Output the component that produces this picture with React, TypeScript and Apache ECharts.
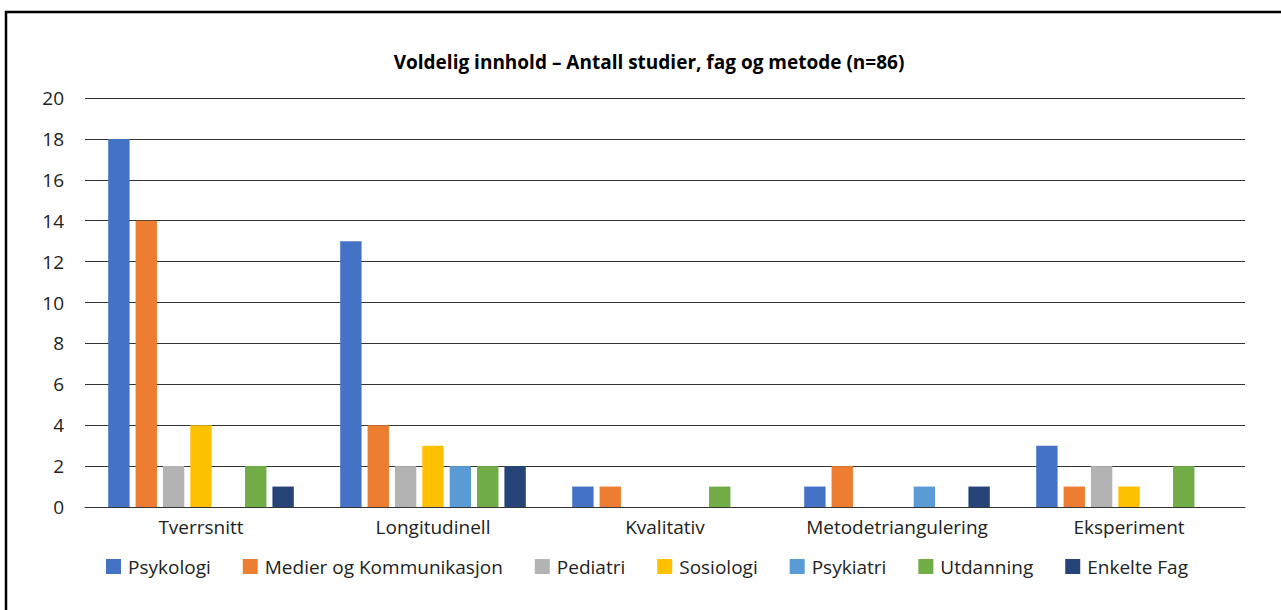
import React, { useEffect, useRef } from "react";
import * as echarts from "echarts";

const categories = ["Tverrsnitt", "Longitudinell", "Kvalitativ", "Metodetriangulering", "Eksperiment"];
const seriesNames = ["Psykologi", "Medier og Kommunikasjon", "Pediatri", "Sosiologi", "Psykiatri", "Utdanning", "Enkelte Fag"];
const psykologi = [18, 13, 1, 1, 3];
const medier = [14, 4, 1, 2, 1];
const pediatri = [2, 2, 0, 0, 2];
const sosiologi = [4, 3, 0, 0, 1];
const psykiatri = [0, 2, 0, 1, 0];
const utdanning = [2, 2, 1, 0, 2];
const enkelteFag = [1, 2, 0, 1, 0];
const colors = ["#4472C4", "#ED7D31", "#B3B3B3", "#FFC000", "#5B9BD5", "#70AD47", "#264478"];
const titleText = "Voldelig innhold – Antall studier, fag og metode (n=86)";

const FONT = "Open Sans";

export default function App() {
  const ref = useRef<HTMLDivElement>(null);
  useEffect(() => {
    if (!ref.current) return;
    const chart = echarts.init(ref.current, null, { renderer: "svg" });
    const data = [psykologi, medier, pediatri, sosiologi, psykiatri, utdanning, enkelteFag];
    chart.setOption({
      animation: false,
      color: colors,
      textStyle: { fontFamily: FONT },
      title: {
        text: titleText,
        left: 644,
        top: 47,
        textAlign: "center",
        textStyle: { fontFamily: FONT, fontSize: 19, fontWeight: "bold", color: "#000" },
      },
      graphic: [
        {
          type: "rect",
          shape: { x: 6, y: 12, width: 1400, height: 800 },
          style: { fill: "none", stroke: "#000", lineWidth: 2.5 },
          silent: true,
        },
      ],
      legend: {
        data: seriesNames,
        left: 101,
        top: 552,
        icon: "rect",
        itemWidth: 15,
        itemHeight: 15,
        itemGap: 32,
        textStyle: { fontFamily: FONT, fontSize: 19, color: "#222", padding: [0, 0, 0, 2] },
      },
      grid: { left: 85, right: 36, top: 98, bottom: 103, containLabel: false },
      xAxis: {
        type: "category",
        data: categories,
        axisTick: { show: false },
        axisLine: { lineStyle: { color: "#333", width: 1 } },
        axisLabel: { fontFamily: FONT, fontSize: 19, color: "#222", margin: 10, interval: 0 },
      },
      yAxis: {
        type: "value",
        min: 0,
        max: 20,
        interval: 2,
        axisLine: { show: false },
        axisTick: { show: false },
        splitLine: { lineStyle: { color: "#333", width: 1 } },
        axisLabel: { fontFamily: FONT, fontSize: 19, color: "#222", margin: 21 },
      },
      series: seriesNames.map((name, i) => ({
        name,
        type: "bar",
        data: data[i],
        barGap: "28%",
        barCategoryGap: "20%",
      })),
    });
    return () => chart.dispose();
  }, []);
  return (
    <div
      ref={ref}
      style={{ position: "fixed", left: 0, top: 0, width: 1281, height: 610, background: "#fff" }}
    />
  );
}
